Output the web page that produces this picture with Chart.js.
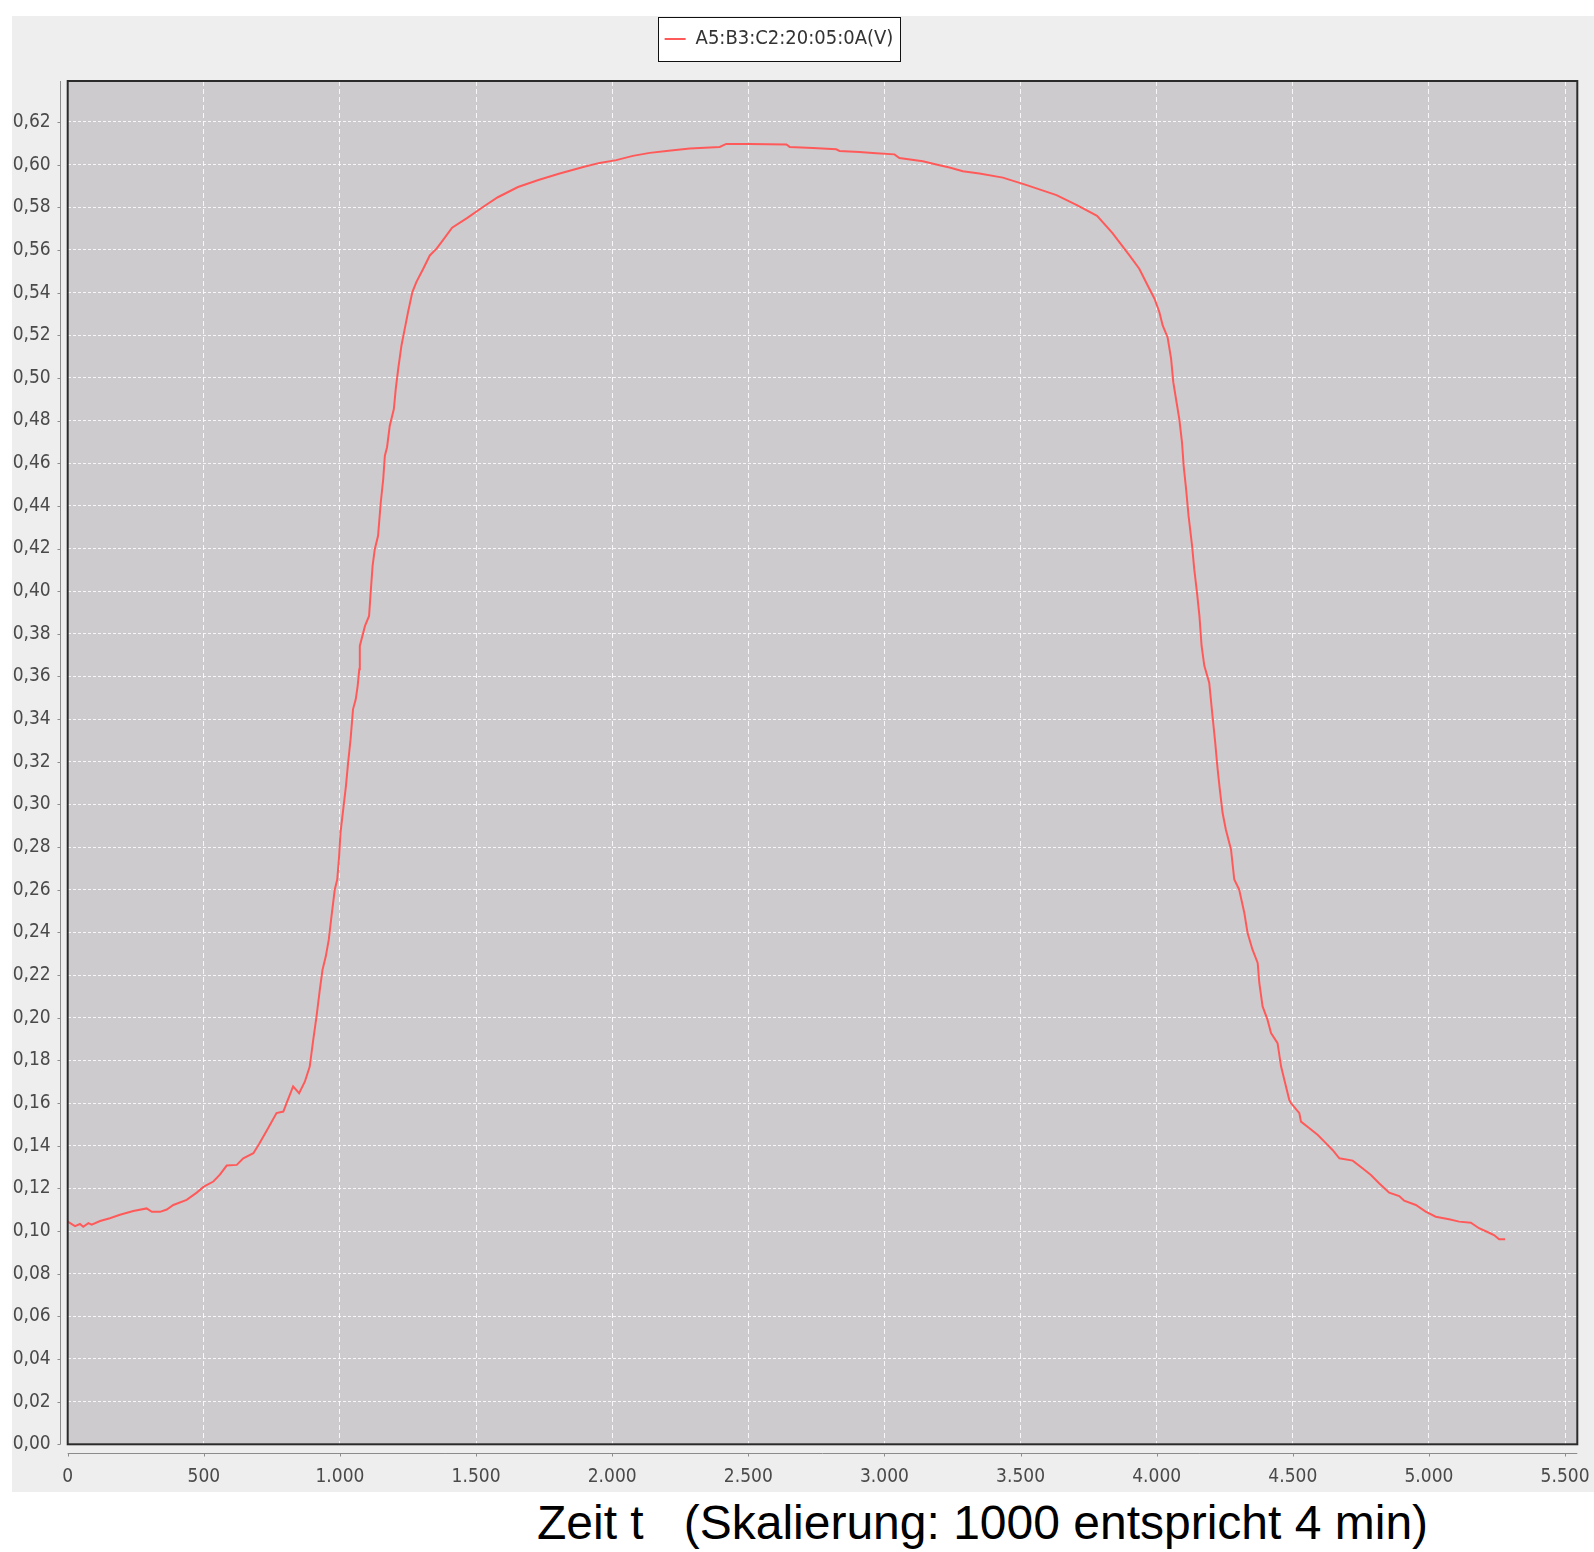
<!DOCTYPE html>
<html>
<head>
<meta charset="utf-8">
<script src="https://cdn.jsdelivr.net/npm/chart.js@4.4.1/dist/chart.umd.min.js"></script>
<style>
  html, body { margin: 0; padding: 0; background: #fff; }
  body { width: 1594px; height: 1552px; position: relative; overflow: hidden; }
  #wrap { position: absolute; left: 12px; top: 16px; width: 1582px; height: 1476px; background: #eeeeee; }
  #caption {
    position: absolute; left: 537px; top: 1499px;
    font: 48px/48px "Liberation Sans", Arial, sans-serif;
    color: #000; white-space: pre;
  }
</style>
</head>
<body>
<div id="wrap"><canvas id="voltChart" width="1582" height="1476"></canvas></div>
<div id="caption">Zeit t   (Skalierung: 1000 entspricht 4 min)</div>
<script>
// values (time in samples, voltage in V)
const seriesLabel = "A5:B3:C2:20:05:0A(V)";

const timeValues = [
  0, 27, 45, 57, 76, 88, 119, 155, 192, 241, 290, 309, 339, 364, 388, 437, 474, 500,
  535, 559, 584, 621, 645, 682, 703, 736, 767, 792, 804, 828, 850, 871, 889, 902,
  914, 926, 936, 948, 959, 969, 981, 990, 997, 1002, 1012, 1022, 1030, 1039, 1048,
  1058, 1065, 1071, 1073, 1092, 1107, 1112, 1120, 1128, 1140, 1150, 1159, 1165,
  1173, 1183, 1198, 1205, 1214, 1226, 1238, 1250, 1266, 1281, 1306, 1330, 1355,
  1375, 1412, 1468, 1524, 1580, 1654, 1729, 1804, 1897, 1954, 2015, 2076, 2138,
  2199, 2285, 2395, 2419, 2505, 2640, 2652, 2737, 2823, 2835, 2908, 2970, 3037,
  3055, 3141, 3202, 3239, 3288, 3349, 3435, 3520, 3632, 3707, 3781, 3837, 3900,
  3936, 3967, 3992, 4010, 4022, 4040, 4053, 4061, 4071, 4083, 4093, 4099, 4108,
  4117, 4130, 4138, 4148, 4157, 4165, 4175, 4193, 4205, 4215, 4224, 4232, 4242,
  4254, 4273, 4285, 4303, 4322, 4334, 4352, 4371, 4377, 4389, 4407, 4420, 4444,
  4457, 4472, 4487, 4493, 4524, 4530, 4561, 4591, 4616, 4646, 4671, 4720, 4756,
  4787, 4817, 4854, 4891, 4909, 4952, 4988, 5025, 5074, 5111, 5154, 5184, 5221,
  5239, 5258, 5280
];

const voltValues = [
  0.1044, 0.1023, 0.1033, 0.1020, 0.1037, 0.1030, 0.1047, 0.1060, 0.1076, 0.1094,
  0.1106, 0.1090, 0.1090, 0.1101, 0.1122, 0.1146, 0.1180, 0.1208, 0.1232, 0.1264,
  0.1307, 0.1310, 0.1341, 0.1365, 0.1408, 0.1482, 0.1553, 0.1560, 0.1600, 0.1678,
  0.1646, 0.1700, 0.1771, 0.1897, 0.2006, 0.2131, 0.2225, 0.2288, 0.2366, 0.2476,
  0.2601, 0.2648, 0.2757, 0.2867, 0.2977, 0.3086, 0.3196, 0.3305, 0.3446, 0.3493,
  0.3555, 0.3634, 0.3743, 0.3837, 0.3884, 0.3978, 0.4120, 0.4197, 0.4260, 0.4417,
  0.4526, 0.4635, 0.4675, 0.4776, 0.4854, 0.4948, 0.5042, 0.5152, 0.5230, 0.5308,
  0.5402, 0.5450, 0.5512, 0.5574, 0.5606, 0.5640, 0.5704, 0.5750, 0.5800, 0.5847,
  0.5895, 0.5928, 0.5957, 0.5990, 0.6008, 0.6021, 0.6041, 0.6055, 0.6064, 0.6075,
  0.6083, 0.6097, 0.6097, 0.6094, 0.6083, 0.6078, 0.6072, 0.6064, 0.6059, 0.6053,
  0.6048, 0.6031, 0.6016, 0.5997, 0.5986, 0.5969, 0.5958, 0.5939, 0.5905, 0.5857,
  0.5810, 0.5760, 0.5680, 0.5574, 0.5512, 0.5433, 0.5371, 0.5308, 0.5246, 0.5191,
  0.5089, 0.4980, 0.4901, 0.4808, 0.4698, 0.4589, 0.4479, 0.4354, 0.4213, 0.4103,
  0.3994, 0.3884, 0.3743, 0.3650, 0.3571, 0.3415, 0.3290, 0.3164, 0.3070, 0.2961,
  0.2883, 0.2789, 0.2648, 0.2601, 0.2491, 0.2397, 0.2319, 0.2257, 0.2163, 0.2053,
  0.1991, 0.1928, 0.1881, 0.1771, 0.1693, 0.1615, 0.1600, 0.1553, 0.1513, 0.1482,
  0.1451, 0.1419, 0.1380, 0.1341, 0.1330, 0.1294, 0.1263, 0.1224, 0.1180, 0.1164,
  0.1142, 0.1122, 0.1091, 0.1067, 0.1055, 0.1044, 0.1039, 0.1013, 0.0992, 0.0981,
  0.0961, 0.0961
];

// tick positions on the time axis
const xTickValues = [0, 500, 1000, 1500, 2000, 2500, 3000, 3500, 4000, 4500, 5000, 5500];
const yTickStep = 0.02;

const tickFont = { family: '"DejaVu Sans Condensed", "Liberation Sans Narrow", "DejaVu Sans", sans-serif', size: 19 };

// german number style: 1.000 and 0,62
function fmtThousands(v) {
  return String(Math.round(v)).replace(/\B(?=(\d{3})+(?!\d))/g, ".");
}
function fmtVolt(v) {
  return Math.abs(v).toFixed(2).replace(".", ",");
}

// gray plot area, legend frame, outer border and the detached axis lines
const framePlugin = {
  id: "frame",
  afterLayout(chart) {
    const lg = chart.legend;
    const dx = 767 - (lg.left + lg.right) / 2;
    const dy = -22;
    lg.left += dx; lg.right += dx;
    lg.top += dy; lg.bottom += dy;
  },
  beforeDraw(chart) {
    const { ctx, chartArea: a } = chart;
    ctx.save();
    ctx.fillStyle = "#cecbcf";
    ctx.fillRect(a.left, a.top, a.right - a.left, a.bottom - a.top);

    const lg = chart.legend;
    const hb = lg.legendHitBoxes[0];
    const cx = (lg.left + lg.right) / 2;
    const cy = lg.top + lg.options.labels.padding + 10;
    const bx = Math.round(cx - hb.width / 2 - 7) + 0.5;
    const by = Math.round(cy - 22) + 0.5;
    const bw = Math.round(hb.width + 13);
    ctx.fillStyle = "#ffffff";
    ctx.fillRect(bx, by, bw, 44);
    ctx.strokeStyle = "#111";
    ctx.lineWidth = 1;
    ctx.strokeRect(bx, by, bw, 44);
    ctx.restore();
  },
  afterDraw(chart) {
    const { ctx, chartArea: a, scales: { x, y } } = chart;
    ctx.save();
    ctx.strokeStyle = "#2b2b2b";
    ctx.lineWidth = 2;
    ctx.strokeRect(a.left, a.top, a.right - a.left, a.bottom - a.top);

    ctx.strokeStyle = "#8c8c8c";
    ctx.lineWidth = 1;
    const ax = Math.round(a.left - 8) + 0.5;
    const ay = Math.round(a.bottom + 9) + 0.5;
    ctx.beginPath();
    ctx.moveTo(ax, a.top);
    ctx.lineTo(ax, a.bottom);
    y.ticks.forEach(t => {
      const py = Math.round(y.getPixelForValue(t.value)) + 0.5;
      ctx.moveTo(ax - 3, py);
      ctx.lineTo(ax, py);
    });
    ctx.moveTo(a.left, ay);
    ctx.lineTo(a.right, ay);
    x.ticks.forEach(t => {
      const px = Math.round(x.getPixelForValue(t.value)) + 0.5;
      ctx.moveTo(px, ay);
      ctx.lineTo(px, ay + 3);
    });
    ctx.stroke();
    ctx.restore();
  }
};

const ctx = document.getElementById("voltChart").getContext("2d");

new Chart(ctx, {
  type: "line",
  data: {
    datasets: [{
      label: seriesLabel,
      data: timeValues.map((t, i) => ({ x: t, y: voltValues[i] })),
      borderColor: "#ff5a5a",
      backgroundColor: "#ff5a5a",
      borderWidth: 2,
      pointRadius: 0,
      tension: 0,
      fill: false
    }]
  },
  options: {
    responsive: false,
    animation: false,
    layout: { padding: { left: 0, right: 16.7, top: 0, bottom: 0 } },
    plugins: {
      legend: {
        position: "top",
        labels: {
          usePointStyle: true,
          pointStyle: "line",
          pointStyleWidth: 21,
          padding: 35,
          color: "#333",
          font: { family: tickFont.family, size: 20 }
        }
      },
      tooltip: { enabled: false }
    },
    scales: {
      x: {
        type: "linear",
        min: 0,
        max: 5545,
        grid: { color: "rgba(255,255,255,0.85)", lineWidth: 1, drawTicks: false },
        border: { display: false, dash: [5, 3] },
        afterBuildTicks(s) {
          s.ticks = xTickValues.map(v => ({ value: v }));
        },
        ticks: {
          autoSkip: false,
          maxRotation: 0,
          padding: 21,
          color: "#4a4a4a",
          font: tickFont,
          callback: v => fmtThousands(v)
        },
        afterFit(s) {
          s.height = 47.7;
          s.paddingLeft = 0;
          s.paddingRight = 0;
        }
      },
      y: {
        type: "linear",
        min: 0,
        max: 0.6392,
        grid: { color: "rgba(255,255,255,0.85)", lineWidth: 1, drawTicks: false },
        border: { display: false, dash: [3, 2] },
        ticks: {
          stepSize: yTickStep,
          maxTicksLimit: 40,
          includeBounds: false,
          autoSkip: false,
          padding: 17,
          color: "#4a4a4a",
          font: tickFont,
          callback: v => fmtVolt(v)
        },
        afterFit(s) {
          s.width = 55.7;
          s.paddingTop = 0;
          s.paddingBottom = 0;
        }
      }
    }
  },
  plugins: [framePlugin]
});
</script>
</body>
</html>
